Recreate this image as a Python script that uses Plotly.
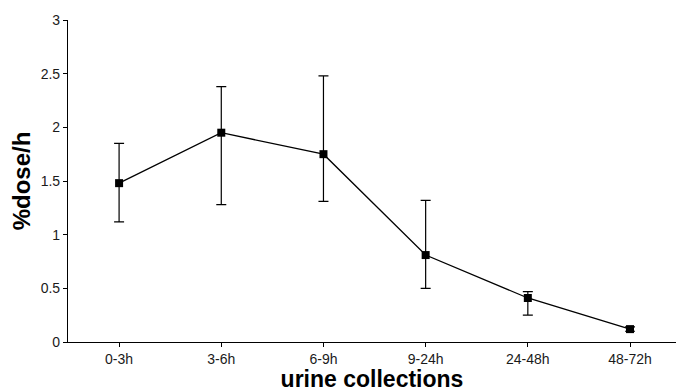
import plotly.graph_objects as go

categories = ["0-3h", "3-6h", "6-9h", "9-24h", "24-48h", "48-72h"]
values = [1.48, 1.95, 1.75, 0.81, 0.41, 0.12]
upper = [1.85, 2.38, 2.48, 1.32, 0.47, 0.14]
lower = [1.12, 1.28, 1.31, 0.50, 0.25, 0.10]

err_plus = [u - v for u, v in zip(upper, values)]
err_minus = [v - l for v, l in zip(values, lower)]

fig = go.Figure()
fig.add_trace(go.Scatter(
    x=list(range(len(categories))), y=values, mode="lines+markers",
    line=dict(color="black", width=1.3),
    marker=dict(symbol="square", size=8, color="black"),
    error_y=dict(type="data", symmetric=False, array=err_plus, arrayminus=err_minus,
                 color="black", thickness=1.2, width=5),
    showlegend=False,
))

fig.update_layout(
    width=676, height=392,
    margin=dict(l=68, r=0, t=20, b=50),
    paper_bgcolor="white", plot_bgcolor="white",
    font=dict(family="Liberation Sans, Arial, sans-serif", color="#1a1a1a"),
    xaxis=dict(
        range=[-0.5, 5.45], tickmode="array", tickvals=list(range(len(categories))),
        ticktext=categories, ticks="outside", ticklen=4, tickcolor="black",
        showline=True, linecolor="black", linewidth=1.2, showgrid=False, zeroline=False,
        tickfont=dict(size=14),
        title=dict(text="<b>urine collections</b>", font=dict(size=23, color="black"), standoff=8),
    ),
    yaxis=dict(
        range=[0, 3], tickvals=[0, 0.5, 1, 1.5, 2, 2.5, 3],
        ticktext=["0", "0.5", "1", "1.5", "2", "2.5", "3"],
        ticks="outside", ticklen=4, tickcolor="black",
        showline=True, linecolor="black", linewidth=1.2, showgrid=False, zeroline=False,
        tickfont=dict(size=14),
        title=dict(text="<b>%dose/h</b>", font=dict(size=24, color="black"), standoff=3),
    ),
)

fig.write_html("out.html")
